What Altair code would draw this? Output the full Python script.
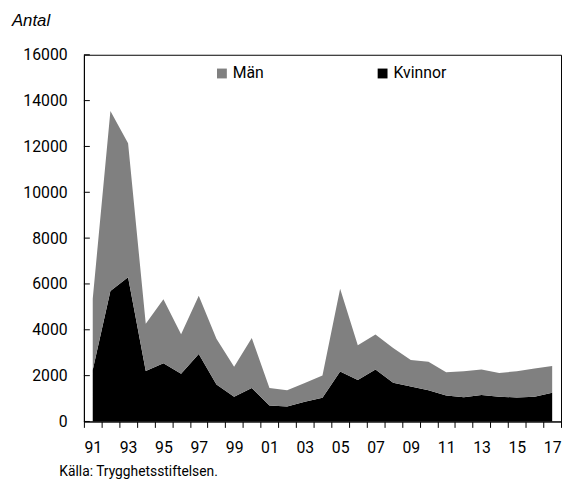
import altair as alt
import pandas as pd

years = list(range(1991, 2018))
kvinnor = [2250, 5690, 6290, 2200, 2540, 2080, 2940, 1610, 1080, 1460, 700, 650, 860,
           1030, 2180, 1810, 2270, 1690, 1530, 1360, 1130, 1060, 1150, 1080, 1050, 1080, 1250]
man = [3100, 7860, 5850, 2060, 2790, 1720, 2540, 2000, 1310, 2180, 760, 710, 820,
       980, 3610, 1520, 1520, 1520, 1150, 1250, 1020, 1130, 1120, 1040, 1140, 1230, 1170]
series = ["Män", "Kvinnor"]
colors = ["#808080", "#000000"]
y_ticks = list(range(0, 16001, 2000))
x_tick_values = [1990.5 + i for i in range(28)]

FONT = "Roboto, Liberation Sans Narrow, sans-serif"

rows = []
for i, y in enumerate(years):
    rows.append({"year": y, "serie": "Kvinnor", "value": kvinnor[i], "ord": 0})
    rows.append({"year": y, "serie": "Män", "value": man[i], "ord": 1})
df = pd.DataFrame(rows)

W, H = 484, 372

area = alt.Chart(df).mark_area(opacity=1).encode(
    x=alt.X("year:Q", scale=alt.Scale(domain=[1990.5, 2017.5], nice=False, zero=False),
            axis=alt.Axis(values=x_tick_values, title=None, grid=False,
                          labelExpr="(datum.value + 0.5) % 2 == 1 ? slice(toString(datum.value + 0.5), 2) : ''",
                          labelOffset=9, labelFlush=False, labelOverlap=False,
                          tickSize=6, tickColor="black", domainColor="black",
                          labelPadding=12, labelFont=FONT, labelFontSize=16,
                          labelColor="black")),
    y=alt.Y("value:Q", stack="zero",
            scale=alt.Scale(domain=[0, 16000], nice=False),
            axis=alt.Axis(values=y_ticks, title=None, grid=False, ticks=False,
                          format="d", domainColor="black", labelPadding=17,
                          labelFont=FONT, labelFontSize=16, labelColor="black")),
    color=alt.Color("serie:N", scale=alt.Scale(domain=series, range=colors),
                    legend=alt.Legend(title=None, orient="none", legendX=132, legendY=11,
                                      direction="horizontal", symbolType="square",
                                      symbolSize=100, symbolStrokeWidth=0,
                                      labelFont=FONT, labelFontSize=16, labelColor="black",
                                      columnPadding=112, labelOffset=3)),
    order=alt.Order("ord:Q"),
)

tick_df = pd.DataFrame({"v": y_ticks})
yticks = alt.Chart(tick_df).mark_rule(color="black", strokeWidth=1).encode(
    y="v:Q", x=alt.value(0), x2=alt.value(6)
)

source = alt.Chart(pd.DataFrame({"t": ["Källa: Trygghetsstiftelsen."]})).mark_text(
    align="left", baseline="alphabetic", font=FONT, fontSize=14, color="black"
).encode(text="t:N", x=alt.value(-25), y=alt.value(H + 55))

chart = alt.layer(area, yticks, source).properties(
    width=W, height=H,
    title=alt.TitleParams("Antal", anchor="start", frame="group", dx=-73, offset=17,
                          font="Liberation Sans, Arial, sans-serif", fontSize=17,
                          fontStyle="italic", fontWeight="normal", color="black"),
    autosize=alt.AutoSizeParams(type="none"),
    padding={"left": 77, "top": 44, "right": 1, "bottom": 60},
).configure_view(stroke="black", strokeWidth=1)

chart.save("out.html", embed_options={"renderer": "svg", "actions": False})
